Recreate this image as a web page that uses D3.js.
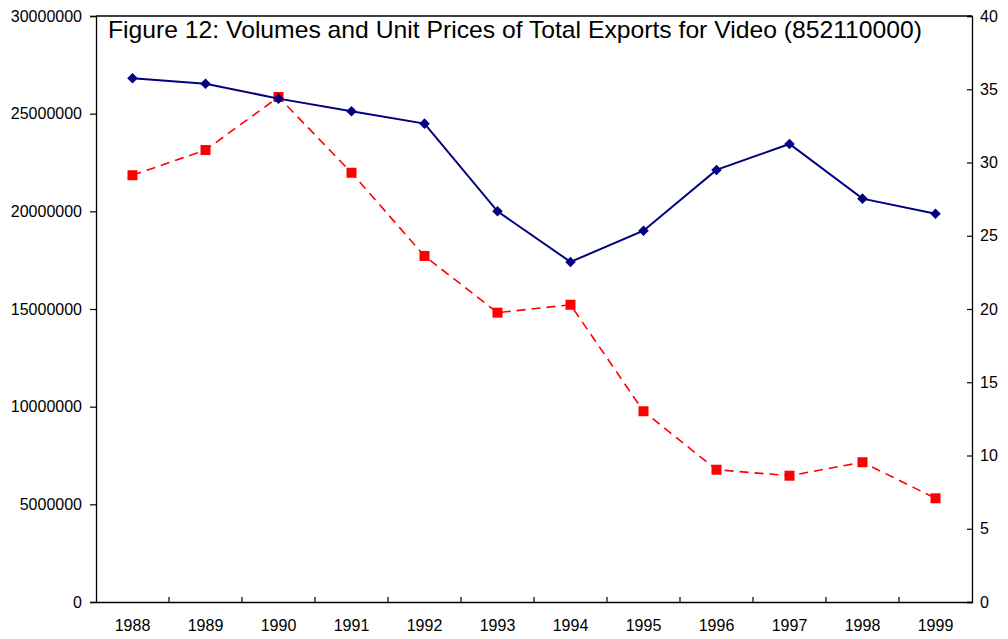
<!DOCTYPE html>
<html>
<head>
<meta charset="utf-8">
<script src="https://cdn.jsdelivr.net/npm/d3@7"></script>
<style>
  body { margin: 0; background: #fff; }
  svg { display: block; font-family: "Liberation Sans", Arial, sans-serif; }
</style>
</head>
<body>
<div id="chart"></div>
<script>
// Years along the x axis
const years = ['1988', '1989', '1990', '1991', '1992', '1993', '1994', '1995', '1996', '1997', '1998', '1999'];
// Export volumes (left axis)
const volumes = [26810000, 26530000, 25770000, 25120000, 24490000, 20000000, 17410000, 19010000, 22120000, 23450000, 20650000, 19880000];
// Unit prices (right axis)
const unitPrices = [29.13, 30.85, 34.47, 29.30, 23.62, 19.75, 20.29, 13.02, 9.03, 8.62, 9.54, 7.08];
const leftTicks = [0, 5000000, 10000000, 15000000, 20000000, 25000000, 30000000];
const rightTicks = [0, 5, 10, 15, 20, 25, 30, 35, 40];
const title = 'Figure 12: Volumes and Unit Prices of Total Exports for Video (852110000)';

const width = 1008, height = 639;
const margin = { top: 16, right: 36, bottom: 37, left: 96 };
const innerW = width - margin.left - margin.right;
const innerH = height - margin.top - margin.bottom;

const svg = d3.select('#chart').append('svg')
    .attr('width', width)
    .attr('height', height);

const g = svg.append('g')
    .attr('transform', `translate(${margin.left},${margin.top})`);

// Scales
const x = d3.scaleBand().domain(years).range([0, innerW]);
const yLeft = d3.scaleLinear().domain([0, 30000000]).range([innerH, 0]);
const yRight = d3.scaleLinear().domain([0, 40]).range([innerH, 0]);

// Frame top line
g.append('line')
    .attr('x1', 0).attr('x2', innerW)
    .attr('y1', 0).attr('y2', 0)
    .attr('stroke', '#000').attr('stroke-width', 1.3);

// Left axis
const leftAxis = g.append('g')
    .call(d3.axisLeft(yLeft).tickValues(leftTicks).tickFormat(d3.format('d')).tickSize(6).tickPadding(8));

// Right axis (ticks point inward)
const rightAxis = g.append('g')
    .attr('transform', `translate(${innerW},0)`)
    .call(d3.axisRight(yRight).tickValues(rightTicks).tickSize(-5).tickPadding(8));

// Bottom axis: labels centred on bands, ticks at band boundaries
const bottomAxis = g.append('g')
    .attr('transform', `translate(0,${innerH})`)
    .call(d3.axisBottom(x).tickSize(0).tickPadding(18));

g.append('g')
    .selectAll('line')
    .data(years.slice(1))
    .join('line')
    .attr('x1', d => x(d)).attr('x2', d => x(d))
    .attr('y1', innerH).attr('y2', innerH - 5)
    .attr('stroke', '#000').attr('stroke-width', 1.2);

[leftAxis, rightAxis, bottomAxis].forEach(a => {
    a.select('.domain').attr('stroke', '#000').attr('stroke-width', 1.3);
    a.selectAll('.tick line').attr('stroke', '#000').attr('stroke-width', 1.2);
    a.selectAll('text')
        .attr('fill', '#000')
        .style('font-size', '16px')
        .style('font-family', '"Liberation Sans", Arial, sans-serif');
});

const cx = d => x(d) + x.bandwidth() / 2;

// Unit price series: red dashed line with square markers
const priceLine = d3.line()
    .x((d, i) => cx(years[i]))
    .y(d => yRight(d));

g.append('path')
    .datum(unitPrices)
    .attr('d', priceLine)
    .attr('fill', 'none')
    .attr('stroke', '#ff0000')
    .attr('stroke-width', 1.6)
    .attr('stroke-dasharray', '9,6');

g.append('g')
    .selectAll('path')
    .data(unitPrices)
    .join('path')
    .attr('transform', (d, i) => `translate(${cx(years[i])},${yRight(d)})`)
    .attr('d', d3.symbol().type(d3.symbolSquare).size(100))
    .attr('fill', '#ff0000');

// Volume series: navy solid line with diamond markers
const volumeLine = d3.line()
    .x((d, i) => cx(years[i]))
    .y(d => yLeft(d));

g.append('path')
    .datum(volumes)
    .attr('d', volumeLine)
    .attr('fill', 'none')
    .attr('stroke', '#000080')
    .attr('stroke-width', 2);

g.append('g')
    .selectAll('path')
    .data(volumes)
    .join('path')
    .attr('transform', (d, i) => `translate(${cx(years[i])},${yLeft(d)}) rotate(45)`)
    .attr('d', d3.symbol().type(d3.symbolSquare).size(56))
    .attr('fill', '#000080');

// Title inside plot area
svg.append('text')
    .attr('x', 108)
    .attr('y', 38)
    .attr('textLength', 814)
    .attr('lengthAdjust', 'spacingAndGlyphs')
    .style('font-size', '24px')
    .style('font-family', '"Liberation Sans", Arial, sans-serif')
    .attr('fill', '#000')
    .text(title);
</script>
</body>
</html>
